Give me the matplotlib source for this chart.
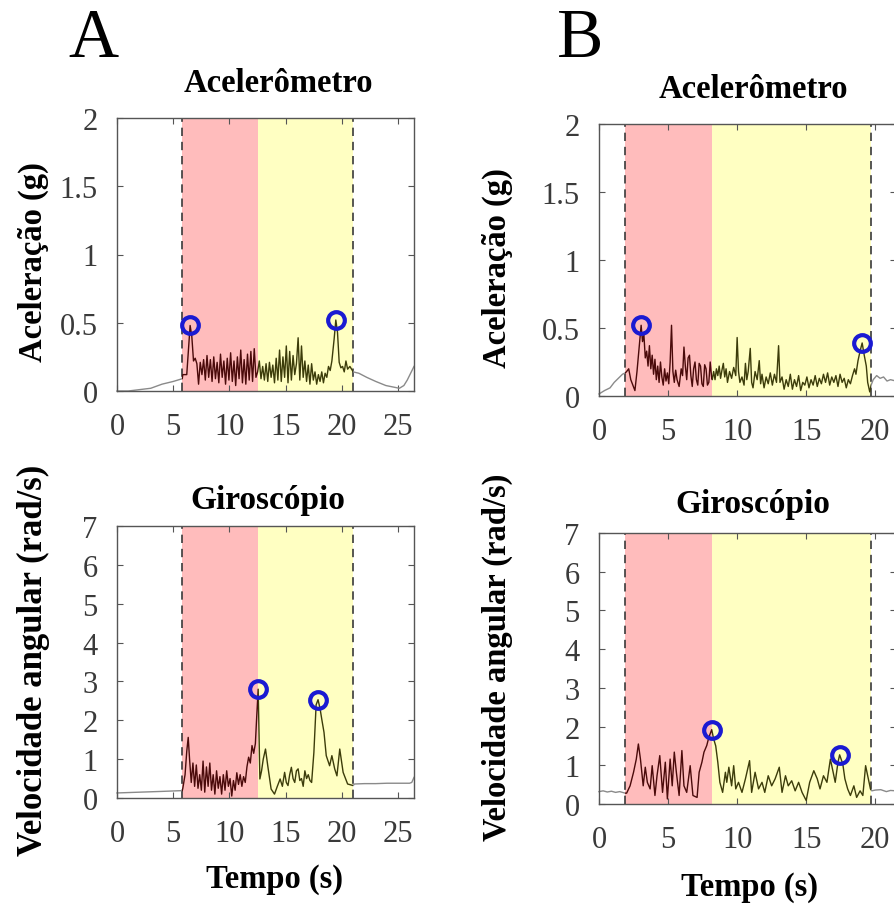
import numpy as np
import matplotlib
matplotlib.use("Agg")
import matplotlib.pyplot as plt
from matplotlib.patches import Rectangle

W, H = 895, 912

# ---- panel A, accelerometer ----
a_acc_t = [0, 1, 2, 3, 4, 5, 5.8,
           5.85, 6.2, 6.35, 6.5, 6.65, 6.8, 6.95, 7.1, 7.25, 7.4, 7.55, 7.7, 7.85, 8.0,
           8.15, 8.3, 8.45, 8.6, 8.75, 8.9, 9.05, 9.2, 9.35, 9.5, 9.65, 9.8, 9.95, 10.1,
           10.25, 10.4, 10.55, 10.7, 10.85, 11.0, 11.15, 11.3, 11.45, 11.6, 11.75, 11.9,
           12.05, 12.2, 12.35, 12.5,
           12.65, 12.8, 12.95, 13.1, 13.25, 13.4, 13.55, 13.7, 13.85, 14.0, 14.15, 14.3,
           14.45, 14.6, 14.75, 14.9, 15.05, 15.2, 15.35, 15.5, 15.65, 15.8, 15.95, 16.1,
           16.25, 16.4, 16.55, 16.7, 16.85, 17.0, 17.15, 17.3, 17.45, 17.6, 17.75, 17.9,
           18.05, 18.2, 18.35, 18.5, 18.65, 18.8, 18.95, 19.1, 19.3, 19.45, 19.6, 19.75,
           19.9, 20.05, 20.2, 20.35, 20.5, 20.7, 21.0,
           21.5, 22.2, 23.0, 23.9, 24.5, 25.1, 25.5, 25.8, 26.1, 26.4]
a_acc_v = [0.0, 0.0, 0.01, 0.02, 0.05, 0.07, 0.09,
           0.12, 0.12, 0.30, 0.48, 0.40, 0.22, 0.24, 0.20, 0.05, 0.21, 0.12, 0.23, 0.08, 0.26,
           0.10, 0.23, 0.07, 0.25, 0.09, 0.21, 0.06, 0.27, 0.10, 0.22, 0.05, 0.24, 0.08, 0.28,
           0.07, 0.22, 0.04, 0.25, 0.09, 0.30, 0.06, 0.23, 0.05, 0.27, 0.08, 0.29,
           0.07, 0.31, 0.10, 0.14,
           0.22, 0.09, 0.18, 0.08, 0.20, 0.07, 0.21, 0.10, 0.19, 0.06, 0.24, 0.08,
           0.30, 0.07, 0.25, 0.10, 0.33, 0.06, 0.29, 0.08, 0.26, 0.12, 0.20, 0.39,
           0.08, 0.33, 0.10, 0.22, 0.07, 0.19, 0.05, 0.20, 0.08, 0.14, 0.05, 0.12,
           0.07, 0.14, 0.06, 0.13, 0.10, 0.18, 0.15, 0.22, 0.38, 0.52, 0.43, 0.21,
           0.17, 0.18, 0.14, 0.22, 0.16, 0.18, 0.14,
           0.13, 0.10, 0.07, 0.04, 0.03, 0.02, 0.04, 0.08, 0.13, 0.18]
a_acc_peak_t = [6.5, 19.45]
a_acc_peak_v = [0.48, 0.52]

# ---- panel A, gyroscope ----
a_gyr_t = [0, 2, 4, 5.8,
           5.85, 6.05, 6.2, 6.33, 6.45, 6.6, 6.75, 6.9, 7.05, 7.2, 7.35, 7.5, 7.65, 7.8,
           7.95, 8.1, 8.25, 8.4, 8.55, 8.7, 8.85, 9.0, 9.15, 9.3, 9.45, 9.6, 9.75, 9.9,
           10.05, 10.2, 10.35, 10.5, 10.65, 10.8, 10.95, 11.1, 11.25, 11.4, 11.55, 11.7,
           11.85, 12.0, 12.15, 12.3, 12.42, 12.55,
           12.7, 12.85, 13.0, 13.2, 13.4, 13.7, 14.0, 14.25, 14.5, 14.7, 14.9, 15.05,
           15.2, 15.35, 15.5, 15.65, 15.8, 15.95, 16.1, 16.25, 16.4, 16.55, 16.7, 16.85,
           17.0, 17.15, 17.3, 17.5, 17.7, 17.87, 18.05, 18.2, 18.4, 18.6, 18.9, 19.1,
           19.35, 19.55, 19.8, 20.1, 20.5, 21.0,
           21.1, 22, 23, 24, 25, 26.0, 26.2, 26.4]
a_gyr_v = [0.13, 0.15, 0.17, 0.19,
           0.25, 0.6, 1.2, 1.56, 1.0, 0.4, 0.9, 0.3, 0.85, 0.25, 0.6, 0.2, 0.95, 0.15,
           0.8, 0.3, 0.9, 0.2, 0.6, 0.1, 0.7, 0.25, 0.55, 0.1, 0.6, 0.2, 0.7, 0.3,
           0.5, 0.05, 0.45, 0.2, 0.65, 0.35, 0.6, 0.3, 0.55, 0.4, 0.8, 1.05,
           0.9, 1.35, 1.15, 1.4, 2.1, 2.8,
           0.49, 0.7, 1.0, 1.26, 0.83, 0.23, 0.1, 0.3, 0.49, 0.3, 0.66, 0.4,
           0.32, 0.6, 0.79, 0.5, 0.4, 0.7, 0.75, 0.45, 0.5, 0.3, 0.7, 0.5,
           0.6, 0.45, 0.4, 1.17, 2.4, 2.53, 2.3, 2.03, 1.69, 1.09, 0.83, 1.09,
           0.75, 0.57, 1.26, 0.66, 0.36, 0.32,
           0.36, 0.37, 0.37, 0.38, 0.38, 0.38, 0.40, 0.53]
a_gyr_peak_t = [12.55, 17.87]
a_gyr_peak_v = [2.8, 2.53]

# ---- panel B, accelerometer ----
b_acc_t = [0, 0.4, 0.8, 1.1, 1.4, 1.7, 1.9,
           2.0, 2.15, 2.3, 2.45, 2.6, 2.75, 2.9, 3.05, 3.15, 3.25, 3.35, 3.45, 3.55, 3.65,
           3.75, 3.85, 3.95, 4.05, 4.15, 4.25, 4.35, 4.45, 4.55, 4.65, 4.75, 4.85, 4.95,
           5.05, 5.15, 5.25, 5.35, 5.45, 5.55, 5.65, 5.8, 5.95, 6.05, 6.15, 6.25, 6.35,
           6.45, 6.55, 6.65, 6.75, 6.85, 6.95, 7.05, 7.15, 7.25, 7.35, 7.45, 7.55, 7.65,
           7.75, 7.85, 7.95, 8.05, 8.15, 8.2,
           8.3, 8.4, 8.5, 8.6, 8.7, 8.8, 8.9, 9.0, 9.1, 9.2, 9.3, 9.45, 9.6, 9.75, 9.9,
           10.0, 10.1, 10.2, 10.35, 10.5, 10.6, 10.7, 10.8, 10.95, 11.05, 11.15, 11.3,
           11.45, 11.6, 11.7, 11.8, 11.95, 12.1, 12.25, 12.4, 12.55, 12.7, 12.85, 13.0,
           13.1, 13.25, 13.4, 13.55, 13.7, 13.85, 14.0, 14.15, 14.3, 14.45, 14.6, 14.75,
           14.9, 15.05, 15.2, 15.35, 15.5, 15.65, 15.8, 15.95, 16.1, 16.25, 16.4, 16.55,
           16.7, 16.85, 17.0, 17.15, 17.3, 17.45, 17.6, 17.75, 17.9, 18.05, 18.2, 18.35,
           18.5, 18.6, 18.75, 18.9, 19.05, 19.2, 19.35, 19.45, 19.6, 19.7,
           19.85, 20.1, 20.35, 20.6, 20.85, 21.1, 21.5]
b_acc_v = [0.015, 0.04, 0.06, 0.10, 0.13, 0.16, 0.17,
           0.18, 0.20, 0.12, 0.08, 0.04, 0.18, 0.35, 0.52, 0.40, 0.45, 0.28, 0.33, 0.22, 0.37,
           0.20, 0.30, 0.16, 0.27, 0.12, 0.22, 0.10, 0.25, 0.14, 0.08, 0.20, 0.11, 0.17,
           0.09, 0.25, 0.52, 0.18, 0.10, 0.19, 0.12, 0.07, 0.20, 0.15, 0.36, 0.22, 0.12,
           0.28, 0.30, 0.15, 0.07, 0.20, 0.25, 0.12, 0.08, 0.24, 0.22, 0.09, 0.07, 0.23,
           0.20, 0.08, 0.10, 0.25, 0.14, 0.12,
           0.18, 0.12, 0.20, 0.15, 0.22, 0.13, 0.19, 0.24, 0.14, 0.20, 0.10, 0.18, 0.13, 0.21, 0.15,
           0.43, 0.18, 0.10, 0.14, 0.08, 0.24, 0.12, 0.18, 0.35, 0.10, 0.06, 0.18,
           0.12, 0.26, 0.09, 0.16, 0.06, 0.14, 0.09, 0.17, 0.08, 0.16, 0.10, 0.37,
           0.10, 0.14, 0.05, 0.12, 0.07, 0.16, 0.05, 0.12, 0.07, 0.15, 0.04, 0.10,
           0.08, 0.14, 0.06, 0.12, 0.08, 0.15, 0.07, 0.13, 0.09, 0.16, 0.10, 0.17,
           0.08, 0.14, 0.10, 0.15, 0.07, 0.16, 0.10, 0.13, 0.06, 0.12, 0.09, 0.15,
           0.20, 0.16, 0.26, 0.33, 0.39, 0.30, 0.22, 0.10, 0.03, 0.08,
           0.12, 0.15, 0.13, 0.14, 0.11, 0.12, 0.11]
b_acc_peak_t = [3.05, 19.05]
b_acc_peak_v = [0.52, 0.39]

# ---- panel B, gyroscope ----
b_gyr_t = [0, 0.3, 0.6, 0.9, 1.2, 1.5, 1.9,
           2.0, 2.25, 2.5, 2.7, 2.85, 3.0, 3.2, 3.35, 3.5, 3.7, 3.85, 4.05, 4.2, 4.4,
           4.6, 4.8, 4.95, 5.15, 5.3, 5.45, 5.6, 5.8, 6.0, 6.15, 6.35, 6.6, 6.8, 7.1,
           7.25, 7.45, 7.6, 7.8, 7.95, 8.16,
           8.3, 8.45, 8.6, 8.75, 8.95, 9.15, 9.25, 9.4, 9.6, 9.75, 9.9, 10.1, 10.35,
           10.6, 10.9, 11.05, 11.3, 11.55, 11.8, 12.0, 12.25, 12.5, 12.75, 13.05, 13.25,
           13.5, 13.7, 13.95, 14.2, 14.45, 14.7, 15.0, 15.25, 15.55, 15.8, 16.0, 16.25,
           16.5, 16.75, 16.95, 17.1, 17.3, 17.42, 17.65, 17.8, 18.0, 18.2, 18.45, 18.65,
           18.9, 19.1, 19.3, 19.45, 19.65,
           19.75, 20.0, 20.4, 20.8, 21.1, 21.5]
b_gyr_v = [0.32, 0.34, 0.31, 0.33, 0.30, 0.32, 0.28,
           0.28, 0.47, 0.82, 1.16, 1.55, 1.16, 0.47, 0.95, 0.56, 0.39, 0.99, 0.22, 0.73, 1.25,
           0.30, 1.08, 0.13, 1.16, 0.47, 1.34, 0.82, 0.22, 1.38, 0.47, 0.30, 0.99, 0.22, 0.17,
           0.82, 1.08, 1.34, 1.51, 1.72, 1.92,
           1.68, 1.50, 1.08, 0.56, 0.30, 0.82, 0.56, 0.95, 0.47, 0.99, 0.39, 0.56, 0.30,
           0.65, 1.12, 0.30, 0.82, 0.39, 0.56, 0.30, 0.73, 0.47, 0.65, 0.95, 0.30,
           0.73, 0.47, 0.60, 0.34, 0.56, 0.30, 0.09, 0.56, 0.86, 0.65, 0.39, 0.73,
           0.56, 1.16, 0.82, 0.56, 1.08, 1.27, 1.03, 0.65, 0.39, 0.22, 0.47, 0.17,
           0.34, 0.22, 0.99, 0.73, 0.39,
           0.34, 0.36, 0.37, 0.32, 0.35, 0.34]
b_gyr_peak_t = [8.16, 17.42]
b_gyr_peak_v = [1.92, 1.27]

# phase limits: start, transition, end (s)
a_phases = [5.8, 12.5, 21.0]
b_phases = [1.9, 8.2, 19.7]

acc_ticks = [0, 0.5, 1, 1.5, 2]
acc_labels = ["0", "0.5", "1", "1.5", "2"]
gyr_ticks = [0, 1, 2, 3, 4, 5, 6, 7]

RED_BAND = "#ffbcbc"
YEL_BAND = "#ffffc2"
GRAY = "#8a8a8a"
DARK_RED = "#4a0a0a"
OLIVE = "#3c3c0a"
BLUE = "#1a1ad2"
SERIF = "Liberation Serif"


def ax_rect(left, top, right, bottom):
    return [left / W, 1 - bottom / H, (right - left) / W, (bottom - top) / H]


def draw_panel(ax, t, v, phases, pk_t, pk_v, xmax, xticks, ymax, yticks, ylabels):
    t0, t1, t2 = phases
    ax.axvspan(t0, t1, color=RED_BAND, lw=0, zorder=0)
    ax.axvspan(t1, t2, color=YEL_BAND, lw=0, zorder=0)
    for x in (t0, t2):
        ax.axvline(x, color="#3a3a3a", ls=(0, (5, 3.5)), lw=1.2, zorder=1)
    # same trace, coloured by segment
    for lo, hi, c in [(-1, t0, GRAY), (t0, t1, DARK_RED), (t1, t2, OLIVE), (t2, xmax + 1, GRAY)]:
        line, = ax.plot(t, v, color=c, lw=1.0, zorder=2)
        clip = Rectangle((lo, -1), hi - lo, ymax + 2, transform=ax.transData)
        line.set_clip_path(clip)
    ax.plot(pk_t, pk_v, "o", mfc="none", mec=BLUE, mew=3, ms=12, zorder=3)
    ax.set_xlim(0, xmax)
    ax.set_ylim(0, ymax)
    ax.set_xticks(xticks)
    ax.set_yticks(yticks)
    ax.set_yticklabels(ylabels)
    ax.tick_params(direction="in", top=True, right=True, length=4, width=0.8,
                   color="#555555", labelsize=22, labelcolor="#3a3a3a")
    ax.tick_params(axis="x", pad=15)
    ax.tick_params(axis="y", pad=14)
    for lab in ax.get_xticklabels() + ax.get_yticklabels():
        lab.set_fontfamily(SERIF)
    for s in ax.spines.values():
        s.set_color("#555555")
        s.set_linewidth(1.0)


fig = plt.figure(figsize=(W / 100, H / 100), dpi=100)

ax1 = fig.add_axes(ax_rect(117, 119, 414, 392))
ax2 = fig.add_axes(ax_rect(117, 527, 414, 799))
ax3 = fig.add_axes(ax_rect(599, 125, 896, 397))
ax4 = fig.add_axes(ax_rect(599, 534, 896, 805))

draw_panel(ax1, a_acc_t, a_acc_v, a_phases, a_acc_peak_t, a_acc_peak_v,
           26.4, [0, 5, 10, 15, 20, 25], 2, acc_ticks, acc_labels)
draw_panel(ax2, a_gyr_t, a_gyr_v, a_phases, a_gyr_peak_t, a_gyr_peak_v,
           26.4, [0, 5, 10, 15, 20, 25], 7, gyr_ticks, [str(k) for k in gyr_ticks])
draw_panel(ax3, b_acc_t, b_acc_v, b_phases, b_acc_peak_t, b_acc_peak_v,
           21.5, [0, 5, 10, 15, 20], 2, acc_ticks, acc_labels)
draw_panel(ax4, b_gyr_t, b_gyr_v, b_phases, b_gyr_peak_t, b_gyr_peak_v,
           21.5, [0, 5, 10, 15, 20], 7, gyr_ticks, [str(k) for k in gyr_ticks])


def ftext(x, y, s, **kw):
    fig.text(x / W, 1 - y / H, s, ha="center", va="center", family=SERIF, **kw)


ftext(93, 40, "A", fontsize=50)
ftext(580, 40, "B", fontsize=50)

ftext(278, 84, "Acelerômetro", fontsize=23.5, weight="bold")
ftext(753, 90, "Acelerômetro", fontsize=23.5, weight="bold")
ftext(268, 500, "Giroscópio", fontsize=24, weight="bold")
ftext(753, 504, "Giroscópio", fontsize=24, weight="bold")

ftext(33, 262, "Aceleração (g)", fontsize=23.5, weight="bold", rotation=90)
ftext(497, 268, "Aceleração (g)", fontsize=23.5, weight="bold", rotation=90)
ftext(33, 660, "Velocidade angular (rad/s)", fontsize=25, weight="bold", rotation=90)
ftext(497, 657, "Velocidade angular (rad/s)", fontsize=23.5, weight="bold", rotation=90)

ftext(275, 880, "Tempo (s)", fontsize=23.5, weight="bold")
ftext(750, 888, "Tempo (s)", fontsize=23.5, weight="bold")

fig.savefig("out.png", dpi=100)
